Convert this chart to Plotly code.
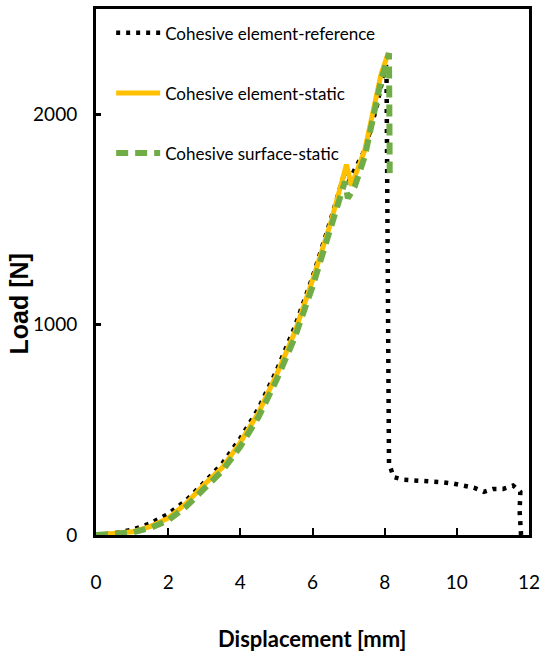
import plotly.graph_objects as go

# Cohesive element-reference (black dotted)
ref_x = [0, 0.5, 1.0, 1.5, 2.0, 2.5, 3.0, 3.5, 4.0, 4.5, 5.0, 5.5, 6.0, 6.5, 6.9, 7.0,
         7.45, 7.77, 7.96, 8.05, 8.12, 8.25, 8.53, 8.81, 9.09, 9.36, 9.64, 9.92, 10.20,
         10.47, 10.75, 11.00, 11.28, 11.56, 11.76, 11.74, 11.78]
ref_y = [0, 8, 25, 55, 100, 165, 250, 340, 460, 600, 780, 985, 1225, 1495, 1730, 1680,
         1830, 2030, 2180, 2240, 339, 275, 263, 260, 260, 255, 250, 244, 236,
         225, 205, 219, 219, 235, 205, 115, 0]

# Cohesive element-static (orange solid)
ele_x = [0, 0.5, 1.0, 1.5, 2.0, 2.5, 3.0, 3.5, 4.0, 4.5, 5.0, 5.5, 6.0, 6.5, 6.94, 7.08, 7.45, 7.9, 8.1]
ele_y = [0, 5, 15, 40, 80, 150, 240, 320, 440, 580, 760, 960, 1210, 1480, 1760, 1660, 1830, 2190, 2290]

# Cohesive surface-static (green dashed)
sur_x = [0, 0.5, 1.0, 1.5, 2.0, 2.5, 3.0, 3.5, 4.0, 4.5, 5.0, 5.5, 6.0, 6.5, 6.9, 6.98, 7.17, 7.45, 7.9, 8.12, 8.14]
sur_y = [0, 3, 12, 33, 70, 135, 222, 305, 420, 560, 735, 935, 1180, 1445, 1680, 1600, 1656, 1800, 2160, 2290, 1720]

x_ticks = [0, 2, 4, 6, 8, 10, 12]
y_ticks = [0, 1000, 2000]

names = ["Cohesive element-reference", "Cohesive element-static", "Cohesive surface-static"]

NARROW = "Lato, Roboto, sans-serif"

fig = go.Figure()
fig.add_trace(go.Scatter(x=ref_x, y=ref_y, mode="lines", name=names[0], legendgroup="a",
                         line=dict(color="black", width=4.5, dash="4px,6px")))
fig.add_trace(go.Scatter(x=ele_x, y=ele_y, mode="lines", name=names[1], legendgroup="b",
                         line=dict(color="#FFC000", width=5)))
fig.add_trace(go.Scatter(x=sur_x, y=sur_y, mode="lines", name=names[2], legendgroup="c",
                         line=dict(color="#70AD47", width=6, dash="12px,7px")))

fig.update_layout(
    width=543, height=659,
    margin=dict(l=96, r=14, t=9, b=124),
    plot_bgcolor="white", paper_bgcolor="white",
    showlegend=True,
    legend=dict(x=0.035, y=0.988, xanchor="left", yanchor="top",
                bgcolor="rgba(0,0,0,0)", font=dict(family=NARROW, size=17, color="black"),
                itemwidth=44, tracegroupgap=35, traceorder="grouped"),
    xaxis=dict(range=[0, 12], tickvals=x_ticks, ticks="inside", ticklen=7, tickwidth=2,
               tickcolor="black", showline=True, linewidth=3, linecolor="black", mirror=True,
               showgrid=False, zeroline=False, ticklabelstandoff=28, automargin=False,
               tickfont=dict(family=NARROW, size=19, color="black")),
    yaxis=dict(range=[0, 2500], tickvals=y_ticks, ticks="inside", ticklen=5, tickwidth=3,
               tickcolor="black", showline=True, linewidth=3, linecolor="black", mirror=True,
               showgrid=False, zeroline=False, ticklabelstandoff=12, automargin=False,
               tickfont=dict(family=NARROW, size=19, color="black")),
    annotations=[
        dict(text="<b>Load [N]</b>", xref="paper", yref="paper", x=-0.177, y=0.439,
             textangle=-90, showarrow=False, xanchor="center", yanchor="middle",
             font=dict(family="Liberation Sans, Arial, sans-serif", size=25, color="black")),
        dict(text="<b>Displacement [mm]</b>", xref="paper", yref="paper", x=0.5, y=-0.197,
             showarrow=False, xanchor="center", yanchor="middle",
             font=dict(family=NARROW, size=22, color="black")),
    ],
)

fig.write_html("out.html", config={"displayModeBar": False},
               post_script="document.body.style.margin='0';")
